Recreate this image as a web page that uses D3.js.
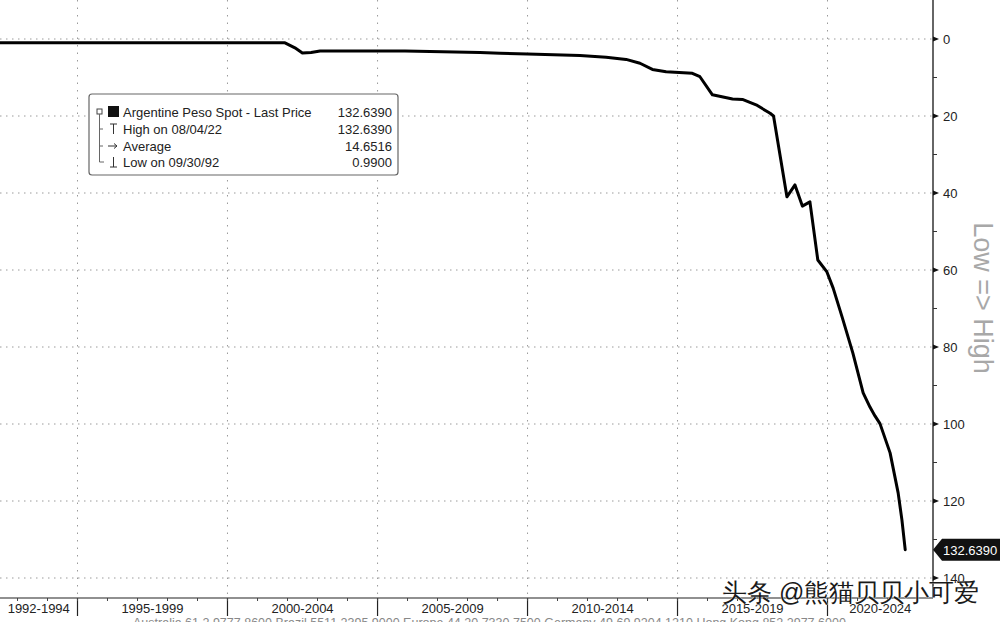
<!DOCTYPE html>
<html><head><meta charset="utf-8">
<script src="https://cdn.jsdelivr.net/npm/d3@7"></script>
<style>
html,body{margin:0;padding:0;background:#fff;}
svg{display:block;}
text{font-family:"Liberation Sans",Arial,sans-serif;}
</style></head>
<body>
<svg id="c" width="1000" height="622"></svg>
<script>
// ---- data ----
const dates = ["1992-06-01","1992-09-30","2001-12-01","2002-04-01","2002-07-01","2002-10-15","2003-02-01","2005-12-01","2008-06-01","2009-02-01","2010-01-01","2011-10-01","2012-08-15","2013-04-15","2013-10-01","2014-03-01","2014-08-15","2015-07-01","2015-10-01","2016-03-01","2016-11-01","2017-03-01","2017-08-15","2018-02-01","2018-03-15","2018-08-25","2018-12-01","2019-03-01","2019-06-01","2019-09-05","2019-12-25","2020-03-10","2020-07-01","2020-11-05","2021-03-10","2021-06-01","2021-08-01","2021-10-01","2022-02-01","2022-05-10","2022-06-25","2022-08-04"];
const values = [0.99,0.99,1.00,2.30,3.64,3.50,3.10,3.10,3.50,3.70,3.90,4.30,4.75,5.30,6.30,7.90,8.50,8.90,9.80,14.50,15.60,15.70,17.10,19.30,20.00,41.00,37.90,43.40,42.30,57.40,60.50,64.70,72.50,81.60,91.90,95.60,97.90,99.90,107.50,117.90,124.90,132.639];
const yTicks = [0,20,40,60,80,100,120,140];
const yMinorTicks = [10,30,50,70,90,110,130];
const periodStarts = ["1992-06-01","1995-01-01","2000-01-01","2005-01-01","2010-01-01","2015-01-01","2020-01-01"];
const periodLabels = ["1992-1994","1995-1999","2000-2004","2005-2009","2010-2014","2015-2019","2020-2024"];
const legendLabels = ["Argentine Peso Spot - Last Price","High on 08/04/22","Average","Low on 09/30/92"];
const legendValues = ["132.6390","132.6390","14.6516","0.9900"];
const lastPriceLabel = "132.6390";
const axisTitle = "Low => High";
const watermark = "头条 @熊猫贝贝小可爱";
const footer = "Australia 61 2 9777 8600 Brazil 5511 2395 9000 Europe 44 20 7330 7500 Germany 49 69 9204 1210 Hong Kong 852 2977 6000";

const parse = d3.timeParse("%Y-%m-%d");
const series = dates.map((d,i)=>({date:parse(d), v:values[i]}));

const svg = d3.select("#c");
const plotRight = 933, axisY = 598;

const x = d3.scaleTime()
  .domain([parse("1995-01-01"), parse("2020-01-01")])
  .range([77.5, 827.5]);
const y = d3.scaleLinear().domain([0,140]).range([39,578]);

svg.append("rect").attr("width",1000).attr("height",622).attr("fill","#fff");

svg.append("clipPath").attr("id","pc").append("rect")
  .attr("x",0).attr("y",0).attr("width",plotRight).attr("height",axisY);

const grid = svg.append("g").attr("clip-path","url(#pc)");
grid.selectAll("line.h").data(yTicks).join("line")
  .attr("x1",0).attr("x2",plotRight)
  .attr("y1",d=>y(d)).attr("y2",d=>y(d))
  .attr("stroke","#9a9a9a").attr("stroke-width",1).attr("stroke-dasharray","1.5,4.5");
const bounds = periodStarts.slice(1).map(parse);
grid.selectAll("line.v").data(bounds).join("line")
  .attr("x1",d=>x(d)).attr("x2",d=>x(d))
  .attr("y1",0).attr("y2",axisY)
  .attr("stroke","#9a9a9a").attr("stroke-width",1).attr("stroke-dasharray","1.5,6");

// data line
const line = d3.line().x(d=>x(d.date)).y(d=>y(d.v)).curve(d3.curveLinear);
grid.append("path").datum(series)
  .attr("d",line).attr("fill","none").attr("stroke","#000")
  .attr("stroke-width",3).attr("stroke-linejoin","round").attr("stroke-linecap","round");

// right axis
const ra = svg.append("g");
ra.append("line").attr("x1",plotRight).attr("x2",plotRight).attr("y1",0).attr("y2",axisY)
  .attr("stroke","#333").attr("stroke-width",1.5);
ra.selectAll("path.tk").data(yTicks).join("path")
  .attr("d",d=>`M${plotRight},${y(d)-2.5}L${plotRight+6},${y(d)}L${plotRight},${y(d)+2.5}Z`)
  .attr("fill","#111");
ra.selectAll("line.mn").data(yMinorTicks).join("line")
  .attr("x1",plotRight).attr("x2",plotRight+4)
  .attr("y1",d=>y(d)).attr("y2",d=>y(d)).attr("stroke","#333");
ra.selectAll("text.yl").data(yTicks).join("text")
  .attr("x",943).attr("y",d=>y(d)+5)
  .attr("font-size",13).attr("fill","#222").text(d=>d);

svg.append("text")
  .attr("transform","translate(974,298) rotate(90)")
  .attr("text-anchor","middle").attr("font-size",27).attr("font-weight",300)
  .attr("fill","#a8a8a8").attr("font-family","Lato, 'Liberation Sans', sans-serif")
  .text(axisTitle);

// last price flag
const ly = y(values[values.length-1]);
svg.append("path")
  .attr("d",`M${plotRight},${ly}L${plotRight+9},${ly-11}L1000,${ly-11}L1000,${ly+11}L${plotRight+9},${ly+11}Z`)
  .attr("fill","#111");
svg.append("text").attr("x",943).attr("y",ly+5).attr("font-size",13)
  .attr("fill","#fff").text(lastPriceLabel);

// bottom axis
const ba = svg.append("g");
ba.append("line").attr("x1",0).attr("x2",plotRight).attr("y1",axisY).attr("y2",axisY)
  .attr("stroke","#222").attr("stroke-width",1.2);
ba.selectAll("line.sep").data(bounds).join("line")
  .attr("x1",d=>x(d)).attr("x2",d=>x(d)).attr("y1",axisY).attr("y2",616)
  .attr("stroke","#222").attr("stroke-width",1.2);
const years = d3.timeYear.range(parse("1993-01-01"), parse("2024-01-01"));
ba.selectAll("line.yr").data(years).join("line")
  .attr("x1",d=>x(d)).attr("x2",d=>x(d)).attr("y1",axisY).attr("y2",axisY+3)
  .attr("stroke","#444");
const centers = periodStarts.map((s,i)=>{
  const a = Math.max(0, x(parse(s)));
  const b = i<periodStarts.length-1 ? x(parse(periodStarts[i+1])) : plotRight;
  return (a+b)/2;
});
ba.selectAll("text.pl").data(periodLabels).join("text")
  .attr("x",(d,i)=>centers[i]).attr("y",613)
  .attr("text-anchor","middle").attr("font-size",13).attr("fill","#222").text(d=>d);

// footer (cut off at the bottom edge, as in the reference)
svg.append("text").attr("x",133).attr("y",627).attr("font-size",12.5)
  .attr("fill","#888").text(footer);

// legend
const lg = svg.append("g");
lg.append("rect").attr("x",89).attr("y",94).attr("width",309).attr("height",81)
  .attr("rx",3).attr("fill","#fff").attr("stroke","#666").attr("stroke-width",1.2);
const rowY = [112,129,146,162];
lg.selectAll("text.ll").data(legendLabels).join("text")
  .attr("x",123).attr("y",(d,i)=>rowY[i]+4.5).attr("font-size",13).attr("fill","#222").text(d=>d);
lg.selectAll("text.lv").data(legendValues).join("text")
  .attr("x",392).attr("y",(d,i)=>rowY[i]+4.5).attr("text-anchor","end")
  .attr("font-size",13).attr("fill","#222").text(d=>d);
lg.append("rect").attr("x",97).attr("y",rowY[0]-3).attr("width",5).attr("height",5)
  .attr("fill","none").attr("stroke","#444");
lg.append("rect").attr("x",108).attr("y",rowY[0]-6).attr("width",11).attr("height",11).attr("fill","#111");
lg.append("path").attr("d",`M99.5,${rowY[0]+2}V${rowY[3]}H104`).attr("fill","none").attr("stroke","#666");
lg.append("path").attr("d",`M99.5,${rowY[1]}H103M99.5,${rowY[2]}H103`).attr("stroke","#666");
lg.append("path").attr("d",`M110,${rowY[1]-5}H117M113.5,${rowY[1]-5}V${rowY[1]+5}`).attr("stroke","#333").attr("fill","none");
lg.append("path").attr("d",`M108,${rowY[2]}H117`).attr("stroke","#333");
lg.append("path").attr("d",`M114,${rowY[2]-2.5}L117,${rowY[2]}L114,${rowY[2]+2.5}`).attr("stroke","#333").attr("fill","none");
lg.append("path").attr("d",`M110,${rowY[3]+5}H117M113.5,${rowY[3]-5}V${rowY[3]+5}`).attr("stroke","#333").attr("fill","none");

// watermark
svg.append("text").attr("x",722).attr("y",601)
  .attr("font-family","'Noto Sans CJK SC',sans-serif").attr("font-size",25)
  .attr("fill","#1a1a1a").attr("stroke","#fff").attr("stroke-width",0.6).attr("paint-order","stroke")
  .text(watermark);
</script>
</body></html>
